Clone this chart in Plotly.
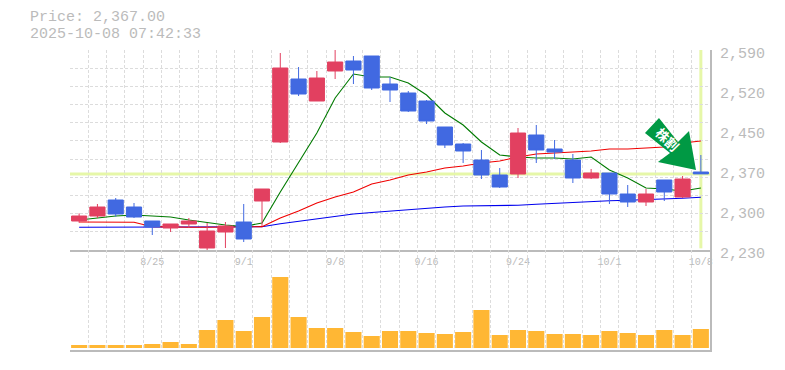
import plotly.graph_objects as go

# Values
dates = ["8/19","8/20","8/21","8/22","8/25","8/26","8/27","8/28","8/29","9/1","9/2","9/3","9/4","9/5","9/8","9/9","9/10","9/11","9/12","9/16","9/17","9/18","9/19","9/22","9/24","9/25","9/26","9/29","9/30","10/1","10/2","10/3","10/6","10/7","10/8"]
tick_labels = ["8/25","9/1","9/8","9/16","9/24","10/1","10/8"]
price_ticks = [2590, 2518, 2446, 2374, 2302, 2230]
price_labels = ["2,590","2,520","2,450","2,370","2,300","2,230"]

open_ = [2282.2,2291.2,2320,2307.4,2282.2,2269.6,2276.8,2233.6,2262.4,2280.4,2318.2,2424.4,2537.8,2498.2,2552.2,2570.2,2579.2,2528.8,2512.6,2498.2,2451.4,2420.8,2392,2365,2366.8,2437,2411.8,2392,2359.6,2368.6,2330.8,2316.4,2356,2325.4,2370.4]
close = [2291.2,2307.4,2294.8,2289.4,2271.4,2276.8,2282.2,2264.2,2273.2,2249.8,2339.8,2557.6,2510.8,2539.6,2568.4,2554,2521.6,2518,2480.2,2462.2,2419,2408.2,2365,2343.4,2440.6,2410,2406.4,2359.6,2368.6,2330.8,2316.4,2330.8,2334.4,2357.8,2367]
high  = [2296,2312.8,2323.6,2314.6,2282.2,2276.8,2287.6,2278.6,2280.4,2312.8,2339.8,2584.6,2559.4,2552.2,2590,2579.2,2579.2,2541.4,2516.2,2500,2451.4,2422.6,2410,2377.6,2449.6,2455,2428,2402.8,2375.8,2368.6,2347,2339.8,2356,2363.2,2401]
low   = [2279,2287.6,2290,2287.6,2257,2262.4,2269.6,2228.2,2233.6,2244.4,2273.2,2422.6,2507.2,2498.2,2537.8,2528.8,2518,2496.4,2478.4,2456.8,2413.6,2386.6,2357.8,2341.6,2359.6,2386.6,2393.8,2350.6,2357.8,2312.8,2307.4,2309.2,2318.2,2323.6,2367]

ma_short = [2284,2287.6,2291.2,2293,2291.2,2289.4,2284,2279.1,2275,2272.3,2278.6,2334.4,2388.4,2440.6,2503.6,2546.8,2541.4,2541.4,2530.6,2509,2476.6,2455,2424.4,2401,2397.4,2395.6,2395.6,2393.8,2397.4,2374,2359.6,2341.6,2339.8,2336.2,2341.6]
ma_mid = [2280.4,2280.4,2279.9,2279.9,2272,2270.9,2270.9,2270.9,2270.9,2271.4,2272,2287.6,2300.2,2314.6,2325.4,2334.4,2348.8,2356,2365,2370.4,2377.6,2381.2,2386.6,2390.2,2397.4,2402.8,2404.6,2406.4,2408.2,2411.8,2411.8,2413.6,2415.4,2422.6,2426.2]
ma_long = [2270.9,2270.9,2270.9,2270.9,2270.9,2270.9,2270.9,2270.9,2270.9,2270.9,2272,2277.3,2281.7,2285.8,2291.2,2294.8,2297.5,2300.2,2302.5,2305.6,2307.4,2309.2,2309.2,2309.2,2310.5,2312.3,2314.1,2315.9,2317.7,2318.7,2319.5,2320.5,2321.8,2323.1,2324.9]

volume = [30,30,30,30,40,60,40,180,280,170,310,710,310,200,200,160,120,170,170,150,140,160,380,130,180,170,140,140,130,170,150,130,180,130,190]

current_price = 2367
GREY = "#bbbbbb"
GRID = "#dcdcdc"
MONO = "Liberation Mono"
OFF = 8  # page margin around the figure
W, H = 785 - OFF, 370 - OFF
L, R, T, B = 70 - OFF, 75, 50 - OFF, 20
PW, PH = W - L - R, H - T - B

def px(x, y):
    return (x - 70) / PW, 1 - (y - 50) / PH

x = list(range(len(dates)))
tick_index = [dates.index(t) for t in tick_labels]
fig = go.Figure()
for series, color in ((ma_long, "#0000ee"), (ma_mid, "#f00000"), (ma_short, "#007a00")):
    fig.add_trace(go.Scatter(x=x, y=series, mode="lines", line=dict(color=color, width=1.1),
                             hoverinfo="skip", showlegend=False, xaxis="x", yaxis="y"))
fig.add_trace(go.Candlestick(x=x, open=open_, high=high, low=low, close=close, xaxis="x", yaxis="y3",
                             increasing=dict(line=dict(color="#e24060", width=1), fillcolor="#e24060"),
                             decreasing=dict(line=dict(color="#4169e1", width=1), fillcolor="#4169e1"),
                             whiskerwidth=0, showlegend=False))
fig.add_trace(go.Bar(x=x, y=volume, marker=dict(color="#ffb734", line=dict(width=0)), width=0.88,
                     xaxis="x2", yaxis="y2", showlegend=False))

minor_x = dict(tickmode="linear", tick0=-0.5, dtick=1, showgrid=True, gridcolor=GRID, griddash="3px,2px", gridwidth=1, ticks="")
xr = [-0.5, len(dates) - 0.5]
yr = [2230, 2590]

arrow = [(659, 118), (645, 133), (670, 153), (658, 162), (696, 170), (689, 131), (678, 142)]
path = "M " + " L ".join("{:.4f},{:.4f}".format(*px(a, b)) for a, b in arrow) + " Z"

fig.update_layout(
    width=W, height=H, margin=dict(l=L, r=R, t=T, b=B, autoexpand=False), paper_bgcolor="white", plot_bgcolor="white",
    showlegend=False, boxgap=0.17, boxgroupgap=0, bargap=0.12,
    font=dict(family=MONO, color=GREY),
    xaxis=dict(domain=[0, 1], range=xr, anchor="y", tickmode="array", tickvals=tick_index, ticktext=tick_labels,
               tickfont=dict(family=MONO, size=10, color=GREY), ticks="", showgrid=False, minor=minor_x,
               showline=True, linecolor=GREY, linewidth=2, rangeslider=dict(visible=False), zeroline=False,
               ticklabelstandoff=1),
    xaxis2=dict(domain=[0, 1], range=xr, anchor="y2", showticklabels=False, ticks="", showgrid=False, minor=minor_x,
                showline=True, linecolor=GREY, linewidth=2, zeroline=False),
    yaxis=dict(domain=[100 / 300, 1], range=yr, anchor="x", side="right", tickmode="array", tickvals=price_ticks,
               ticktext=price_labels, tickfont=dict(family=MONO, size=15, color=GREY), ticks="", showgrid=False,
               minor=dict(tickmode="linear", tick0=2230, dtick=360 / 11, showgrid=True, gridcolor=GRID,
                          griddash="3px,2px", gridwidth=1, ticks=""),
               showline=True, linecolor=GREY, linewidth=2, zeroline=False, ticklabelstandoff=5, ticklabelshift=3),
    yaxis3=dict(domain=[100 / 300, 1], range=yr, overlaying="y", anchor="x", side="right", visible=False),
    yaxis2=dict(domain=[0, 100 / 300], range=[-20, 980], anchor="x2", side="right", showticklabels=False, ticks="",
                showgrid=False, showline=True, linecolor=GREY, linewidth=2, zeroline=False),
    shapes=[
        dict(type="line", xref="x", yref="y", x0=xr[0], x1=xr[1], y0=current_price, y1=current_price,
             line=dict(color="#e6f7a8", width=3), layer="below"),
        dict(type="line", xref="x", yref="y", x0=34, x1=34, y0=2233, y1=2590,
             line=dict(color="#e6f7a8", width=3), layer="below"),
        dict(type="path", xref="paper", yref="paper", path=path, fillcolor="#009944", line=dict(width=0), layer="above"),
    ],
    annotations=[
        dict(text="Price: 2,367.00", xref="paper", yref="paper", x=px(28, 0)[0], y=px(0, 18)[1], xanchor="left",
             yanchor="middle", showarrow=False, font=dict(family=MONO, size=15, color=GREY)),
        dict(text="2025-10-08 07:42:33", xref="paper", yref="paper", x=px(28, 0)[0], y=px(0, 34)[1], xanchor="left",
             yanchor="middle", showarrow=False, font=dict(family=MONO, size=15, color=GREY)),
        dict(text="<b>株割</b>", xref="paper", yref="paper", x=px(668, 0)[0], y=px(0, 139)[1], xanchor="center",
             yanchor="middle", showarrow=False, textangle=45, font=dict(family="Noto Sans CJK JP", size=13, color="white")),
    ],
)
fig.write_html("out.html")
